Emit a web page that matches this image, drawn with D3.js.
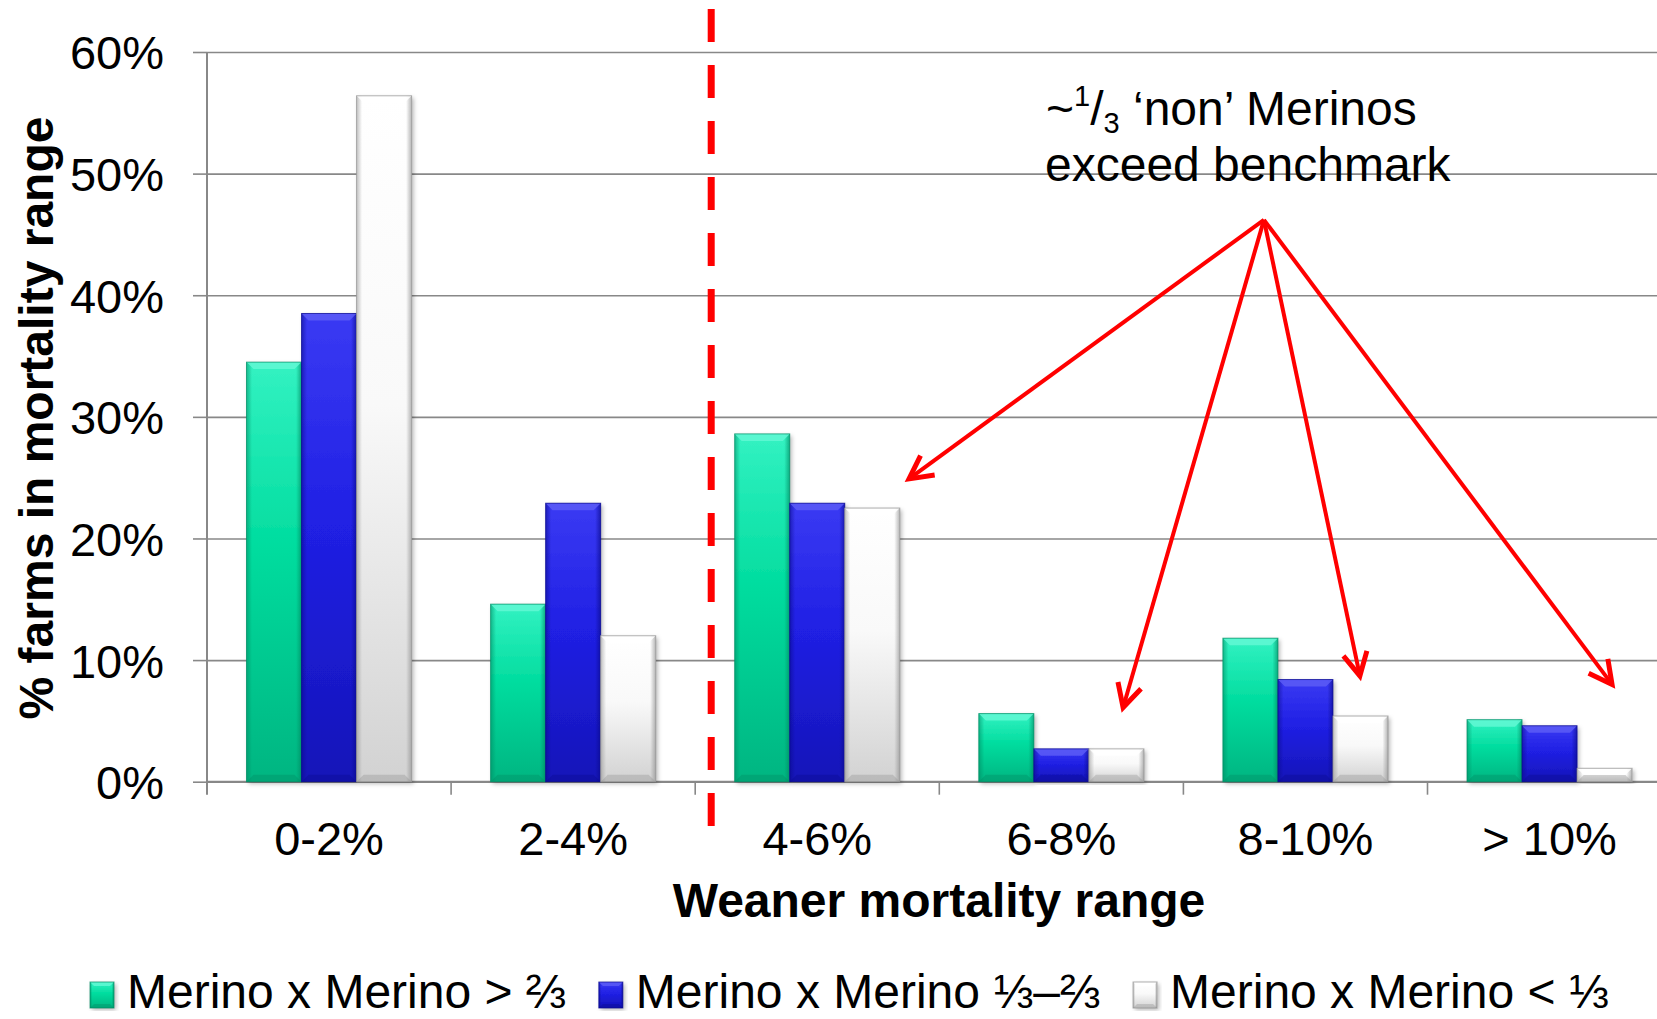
<!DOCTYPE html>
<html>
<head>
<meta charset="utf-8">
<script src="https://cdn.jsdelivr.net/npm/d3@7"></script>
<style>
  html, body { margin: 0; padding: 0; background: #ffffff; }
  svg { display: block; }
  svg text { font-family: "Liberation Sans", Arimo, Arial, sans-serif; }
</style>
</head>
<body>
<svg id="chart" width="1657" height="1019"></svg>
<script>
// ---------------- DATA ----------------
const categories = ["0-2%", "2-4%", "4-6%", "6-8%", "8-10%", "> 10%"];
const seriesNames = ["Merino x Merino > \u2154", "Merino x Merino \u2153\u2013\u2154", "Merino x Merino < \u2153"];
const mmHigh = [34.5, 14.6, 28.6, 5.6, 11.8, 5.1];   // Merino x Merino > 2/3
const mmMid  = [38.5, 22.9, 22.9, 2.7, 8.4, 4.6];    // Merino x Merino 1/3-2/3
const mmLow  = [56.4, 12.0, 22.5, 2.7, 5.4, 1.1];    // Merino x Merino < 1/3
const yTicks = [0, 10, 20, 30, 40, 50, 60];
const yTitle = "% farms in mortality range";
const xTitle = "Weaner mortality range";
const benchmarkAfter = "2-4%";           // dashed benchmark line sits after this category
const arrowTargets = [                   // arrow tips, anchored to category band + value
  { cat: "4-6%",  frac: 0.876, val: 24.9 },
  { cat: "6-8%",  frac: 0.753, val: 6.1 },
  { cat: "8-10%", frac: 0.723, val: 8.7 },
  { cat: "> 10%", frac: 0.756, val: 8.0 }
];
const annotationOrigin = { cat: "8-10%", frac: 0.330, val: 46.2 };

// ---------------- LAYOUT ----------------
const FONT = "'Liberation Sans', Arimo, Arial, sans-serif";
const svg = d3.select("#chart");
const W = 1657, H = 1019;
const x0 = 207, step = 244.1;
const plotTop = 52, plotBottom = 781.7;

const x = d3.scaleBand().domain(categories).range([x0, x0 + step * categories.length]).paddingInner(0).paddingOuter(0);
const xs = d3.scaleBand().domain([0, 1, 2]).range([39.5, step - 39.5]).padding(0);
const y = d3.scaleLinear().domain([0, 60]).range([plotBottom, plotTop]);

const seriesData = [mmHigh, mmMid, mmLow];
const palettes = [
  { top: "#33f2c2", mid: "#00dc9e", bot: "#00b581", edge: "#008a62", bevel: "#62f8d3" },
  { top: "#3a3af3", mid: "#2020e4", bot: "#1515b8", edge: "#0a0a8c", bevel: "#5c5cf6" },
  { top: "#ffffff", mid: "#f9f9f9", bot: "#d2d2d2", edge: "#8e8e8e", bevel: "#ffffff" }
];

svg.append("rect").attr("width", W).attr("height", H).attr("fill", "#fff");

const defs = svg.append("defs");
palettes.forEach((p, i) => {
  const g = defs.append("linearGradient").attr("id", "gv" + i).attr("x1", 0).attr("y1", 0).attr("x2", 0).attr("y2", 1);
  g.append("stop").attr("offset", "0%").attr("stop-color", p.top);
  g.append("stop").attr("offset", "45%").attr("stop-color", p.mid);
  g.append("stop").attr("offset", "100%").attr("stop-color", p.bot);
  const h = defs.append("linearGradient").attr("id", "gh" + i).attr("x1", 0).attr("y1", 0).attr("x2", 1).attr("y2", 0);
  h.append("stop").attr("offset", "0%").attr("stop-color", p.edge).attr("stop-opacity", 0.55);
  h.append("stop").attr("offset", "10%").attr("stop-color", p.edge).attr("stop-opacity", 0.0);
  h.append("stop").attr("offset", "90%").attr("stop-color", p.edge).attr("stop-opacity", 0.0);
  h.append("stop").attr("offset", "100%").attr("stop-color", p.edge).attr("stop-opacity", 0.65);
});
const f = defs.append("filter").attr("id", "shadow").attr("x", "-20%").attr("y", "-5%").attr("width", "140%").attr("height", "115%");
f.append("feDropShadow").attr("dx", 2).attr("dy", 2).attr("stdDeviation", 2.2).attr("flood-color", "#000").attr("flood-opacity", 0.28);

const mk = defs.append("marker").attr("id", "arrowhead")
  .attr("markerUnits", "userSpaceOnUse").attr("markerWidth", 60).attr("markerHeight", 60)
  .attr("viewBox", "-30 -30 60 60").attr("refX", 0).attr("refY", 0).attr("orient", "auto");
mk.append("path").attr("d", "M-23,-12 L0,0 L-23,12").attr("fill", "none")
  .attr("stroke", "#ff0000").attr("stroke-width", 5).attr("stroke-linejoin", "miter");

// ---------------- GRID & AXES ----------------
const gridColor = "#888888";
const xEnd = x0 + step * categories.length;

const grid = svg.append("g").attr("transform", `translate(${x0},0)`)
  .call(d3.axisLeft(y).tickValues(yTicks).tickSize(-(xEnd - x0)).tickFormat(""));
grid.select(".domain").remove();
grid.selectAll("line").attr("stroke", gridColor).attr("stroke-width", 1.6);

const yAxis = svg.append("g").attr("transform", `translate(${x0},0)`)
  .call(d3.axisLeft(y).tickValues(yTicks).tickSize(14).tickPadding(29).tickFormat(d => d + "%"));
yAxis.attr("font-family", FONT);
yAxis.select(".domain").attr("stroke", gridColor).attr("stroke-width", 2).attr("d", `M0,${plotTop}V${plotBottom + 13}`);
yAxis.selectAll("line").attr("stroke", gridColor).attr("stroke-width", 1.6);
yAxis.selectAll("text").attr("font-size", 47).attr("fill", "#000").attr("dy", "0.36em");

// x axis: boundary ticks + centered labels
const xAxis = svg.append("g").attr("transform", `translate(0,${plotBottom})`)
  .call(d3.axisBottom(x).tickSize(0).tickPadding(40));
xAxis.attr("font-family", FONT);
xAxis.select(".domain").remove();
xAxis.selectAll("text").attr("font-size", 47).attr("fill", "#000");
xAxis.selectAll(".bound").data(categories.slice(1)).enter().append("line")
  .attr("class", "bound")
  .attr("x1", d => x(d)).attr("x2", d => x(d)).attr("y1", 0).attr("y2", 13)
  .attr("stroke", gridColor).attr("stroke-width", 1.6);
svg.append("line").attr("x1", x0).attr("x2", xEnd).attr("y1", plotBottom).attr("y2", plotBottom)
  .attr("stroke", gridColor).attr("stroke-width", 2);

// ---------------- BARS ----------------
function bevelBar(g, bx, by, bw, bh, i, b) {
  const p = palettes[i];
  g.append("rect").attr("x", bx).attr("y", by).attr("width", bw).attr("height", bh)
    .attr("fill", `url(#gv${i})`).attr("filter", "url(#shadow)");
  g.append("rect").attr("x", bx).attr("y", by).attr("width", bw).attr("height", bh)
    .attr("fill", `url(#gh${i})`);
  const bb = Math.min(b, bh / 2);
  g.append("polygon").attr("points", [[bx, by], [bx + bw, by], [bx + bw - bb, by + bb], [bx + bb, by + bb]].join(" "))
    .attr("fill", p.bevel).attr("opacity", 0.85);
  g.append("polygon").attr("points", [[bx, by + bh], [bx + bw, by + bh], [bx + bw - bb, by + bh - bb], [bx + bb, by + bh - bb]].join(" "))
    .attr("fill", p.edge).attr("opacity", 0.35);
  g.append("rect").attr("x", bx).attr("y", by).attr("width", bw).attr("height", bh)
    .attr("fill", "none").attr("stroke", p.edge).attr("stroke-width", 1).attr("stroke-opacity", 0.7);
}

const barsG = svg.append("g");
categories.forEach((c, ci) => {
  seriesData.forEach((s, si) => {
    const v = s[ci];
    const bx = x(c) + xs(si);
    const by = y(v);
    bevelBar(barsG, bx, by, xs.bandwidth(), y(0) - by, si, 7);
  });
});

// ---------------- BENCHMARK LINE ----------------
const bxl = x(benchmarkAfter) + x.bandwidth() + 16;
svg.append("line").attr("x1", bxl).attr("x2", bxl).attr("y1", 9).attr("y2", 826)
  .attr("stroke", "#ff0000").attr("stroke-width", 7).attr("stroke-dasharray", "33,23");

// ---------------- ANNOTATION ----------------
const ann = svg.append("text").attr("x", 1046).attr("y", 125).attr("font-size", 48).attr("fill", "#000")
  .attr("font-family", FONT);
ann.append("tspan").text("~");
ann.append("tspan").attr("font-size", 29).attr("dy", -19).text("1");
ann.append("tspan").attr("dy", 19).text("/");
ann.append("tspan").attr("font-size", 29).attr("dy", 8).text("3");
ann.append("tspan").attr("dy", -8).text(" \u2018non\u2019 Merinos");
svg.append("text").attr("x", 1045).attr("y", 181).attr("font-size", 48).attr("fill", "#000")
  .attr("font-family", FONT).text("exceed benchmark");

const ox = x(annotationOrigin.cat) + step * annotationOrigin.frac;
const oy = y(annotationOrigin.val);
svg.selectAll(".arrow").data(arrowTargets).enter().append("line")
  .attr("class", "arrow")
  .attr("x1", ox).attr("y1", oy)
  .attr("x2", d => x(d.cat) + step * d.frac).attr("y2", d => y(d.val))
  .attr("stroke", "#ff0000").attr("stroke-width", 4)
  .attr("marker-end", "url(#arrowhead)");

// ---------------- AXIS TITLES ----------------
svg.append("text").attr("transform", "translate(53,418) rotate(-90)")
  .attr("text-anchor", "middle").attr("font-size", 48).attr("font-weight", "bold").attr("fill", "#000")
  .attr("font-family", FONT).text(yTitle);
svg.append("text").attr("x", 939).attr("y", 917)
  .attr("text-anchor", "middle").attr("font-size", 48).attr("font-weight", "bold").attr("fill", "#000")
  .attr("font-family", FONT).text(xTitle);

// ---------------- LEGEND ----------------
const legend = svg.append("g").attr("font-family", FONT);
let lx = 90;
seriesNames.forEach((name, i) => {
  const g = legend.append("g");
  bevelBar(g, lx, 982, 24, 26, i, 4);
  const t = g.append("text").attr("x", lx + 37).attr("y", 1008).attr("font-size", 48).attr("fill", "#000").text(name);
  lx = lx + 37 + t.node().getComputedTextLength() + 33;
});
</script>
</body>
</html>
